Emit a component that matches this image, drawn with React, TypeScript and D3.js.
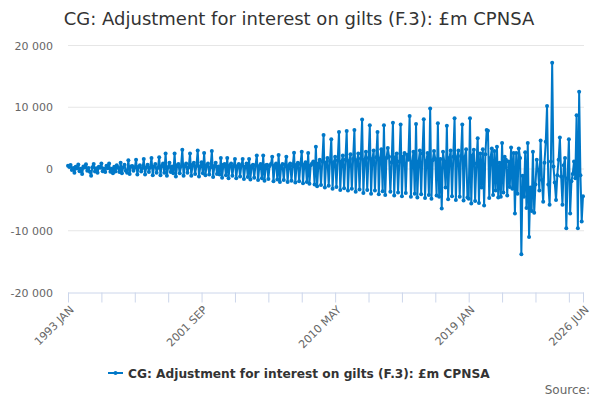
import { useEffect, useRef } from 'react'
import * as d3 from 'd3'

const title = 'CG: Adjustment for interest on gilts (F.3): £m CPNSA'
const seriesName = 'CG: Adjustment for interest on gilts (F.3): £m CPNSA'
const sourceLabel = 'Source:'
const startYear = 1993
const monthLabels = ['JAN', 'FEB', 'MAR', 'APR', 'MAY', 'JUN', 'JUL', 'AUG', 'SEP', 'OCT', 'NOV', 'DEC']
const yTicks = [-20000, -10000, 0, 10000, 20000]
const xTickStep = 26 // months between axis ticks
const xLabelEvery = 4 // label every 4th tick, plus the last month

// £m, monthly from 1993 JAN (one row per year)
const values: number[] = [
  520, 310, 640, -180, 150, -620, 380, 90, 710, -350, 40, -820,
  420, 260, 780, -300, 160, -450, -1100, 300, 820, -420, 110, -600,
  380, 210, 900, -350, 90, -500, 520, 140, 880, -450, 60, -700,
  350, -400, 600, 200, -500, 1000, -700, 300, 700, -300, -600, 1400,
  -800, 400, 500, -300, 200, 1500, -900, 350, 600, -400, 150, 1600,
  -900, 300, 700, -500, 250, 1800, -1000, 400, 800, -600, 200, 1900,
  -1000, 500, 900, -600, 2500, -1100, 300, 1000, -500, 400, -700, 2500,
  -1200, 600, 800, -700, 400, 3100, -1100, 500, 900, -600, 300, 2500,
  -1100, 700, 1000, -800, 500, 3000, -1200, 400, 1100, -700, 2600, -1000,
  600, 900, -900, 300, 2900, -1300, 500, 1000, -800, 400, -900, 1800,
  -1400, 700, 800, -1000, 1800, -1500, 600, 900, -1100, 500, 1600, -1500,
  500, 800, -1200, 600, 1600, -1600, 400, 900, -1300, 1600, -1700, 500,
  700, -1400, 600, 2200, -1800, 500, 800, -1500, 2200, -1900, 600, 700,
  -1600, 500, 800, 2000, -2000, 600, 900, -1700, 2270, -2100, 500, 800,
  -1800, 700, 2000, -2100, 600, 900, -1900, 500, 2640, -2200, 700, 1000,
  -2000, 800, 2800, -2300, 700, 1100, -2100, 2600, -2400, 600, 900, 1200,
  -2500, 3600, -2800, 900, 1500, -2600, 1200, 5500, -3000, 1000, 1800, -2700,
  1300, 4800, -3200, 1100, 2000, -2900, 1400, 6000, -3400, 1200, 2200, -3100,
  1500, 6150, -3500, 1300, 2400, -3200, 1600, 6300, -3700, 1400, 2500, -3300,
  1700, 8000, -3900, 1500, 2800, -3400, 1800, 7100, -4000, 1600, 3000, -3500,
  1900, 6000, -4100, 1700, 3200, -3600, 7100, -4200, 1800, 3400, 2000, -3700,
  1100, 7500, -4300, 1900, 2500, -3800, 1200, 7200, -4400, 2000, 2600, -3900,
  2300, 1500, 8600, -4500, 1100, 2800, -4000, 7300, -4600, 1200, 3000, -4100,
  2500, 8050, -4700, 1300, 2600, -4200, 9800, -4800, 1400, 2900, 1600, -4300,
  7400, -4500, 1600, -6400, 2800, 1200, -3000, 7000, -4900, 1800, 3000, -4400,
  2000, 8200, -5000, 1900, 3000, -4500, 2100, 7200, -5100, 2000, 3200, -4600,
  -4800, 8200, -5600, 2200, 3100, -5200, 900, 5000, -5500, 2500, -3000, 3200,
  -5900, 2400, 6300, 6200, -4700, 1800, 3300, -4200, 2900, -3500, 3600, -4600,
  1000, -4500, 4200, -3800, 2000, 1500, -4300, 1200, -2900, 3500, -3200, 2600,
  -7200, 2600, -4000, 3300, 1800, -13800, -1100, -4500, 2700, -6300, 4200, -11000,
  -3000, -6800, 2800, -7100, -2500, 1500, -150, -3500, 4600, -1800, -5300, 1000,
  4400, 10200, -2500, -5800, 1200, 17200, 400, -2200, -5000, -1000, 1500, 5100,
  -1200, -5800, 600, 1800, -9600, -1500, 4800, -7200, -2000, -800, 1200, -1500,
  8700, -9600, 12500, -1000, -8500, -4400,
]

const lineColor = '#0078c8'
const font = "'DejaVu Sans', sans-serif"

function monthLabel(i: number) {
  return `${startYear + Math.floor(i / 12)} ${monthLabels[i % 12]}`
}

function formatValue(v: number) {
  const s = d3.format(',')(Math.abs(v)).replace(/,/g, ' ')
  return v < 0 ? `-${s}` : s
}

export default function App() {
  const svgRef = useRef<SVGSVGElement>(null)

  useEffect(() => {
    document.body.style.margin = '0'
    if (!svgRef.current) return

    const svg = d3.select(svgRef.current)
    svg.selectAll('*').remove()

    const left = 68
    const right = 583
    const top = 45.5
    const bottom = 292.5
    const last = values.length - 1

    const x = d3.scaleLinear().domain([0, last]).range([left, right])
    const y = d3.scaleLinear().domain([-20000, 20000]).range([bottom, top])

    // Title
    svg
      .append('text')
      .attr('x', 299)
      .attr('y', 25)
      .attr('text-anchor', 'middle')
      .attr('fill', '#333333')
      .attr('font-family', font)
      .attr('font-size', '18px')
      .text(title)

    // Grid lines
    svg
      .append('g')
      .selectAll('line')
      .data(yTicks.filter((t) => t > -20000))
      .enter()
      .append('line')
      .attr('x1', left)
      .attr('x2', right + 1)
      .attr('y1', (d) => y(d))
      .attr('y2', (d) => y(d))
      .attr('stroke', '#e6e6e6')
      .attr('stroke-width', 1)

    // Y axis labels
    const yAxis = d3.axisLeft(y).tickValues(yTicks).tickSize(0).tickPadding(15).tickFormat((d) => formatValue(+d))
    const yg = svg.append('g').attr('transform', `translate(${left},0)`).call(yAxis)
    yg.select('.domain').remove()
    yg.selectAll('text').attr('fill', '#666666').attr('font-family', font).attr('font-size', '11px')

    // X axis
    const xTicks = d3.range(0, last, xTickStep).concat([last])
    const xAxis = d3
      .axisBottom(x)
      .tickValues(xTicks)
      .tickSize(10)
      .tickSizeOuter(0)
      .tickFormat((d) => {
        const i = +d
        return i === last || (i / xTickStep) % xLabelEvery === 0 ? monthLabel(i) : ''
      })
    const xg = svg.append('g').attr('transform', `translate(0,${bottom})`).call(xAxis)
    xg.select('.domain').attr('stroke', '#ccd6eb').attr('d', `M${left},0.5H${right + 1}`)
    xg.selectAll('line').attr('stroke', '#ccd6eb')
    xg.selectAll('text')
      .attr('fill', '#666666')
      .attr('font-family', font)
      .attr('font-size', '11px')
      .attr('y', 0)
      .attr('dy', 0)
      .attr('transform', 'translate(6,18) rotate(-45)')
      .style('text-anchor', 'end')

    // Series line
    const line = d3
      .line<number>()
      .x((_, i) => x(i))
      .y((d) => y(d))

    svg
      .append('path')
      .datum(values)
      .attr('fill', 'none')
      .attr('stroke', lineColor)
      .attr('stroke-width', 2)
      .attr('stroke-linejoin', 'round')
      .attr('d', line)

    svg
      .append('g')
      .selectAll('circle')
      .data(values)
      .enter()
      .append('circle')
      .attr('cx', (_, i) => x(i))
      .attr('cy', (d) => y(d))
      .attr('r', 2)
      .attr('fill', lineColor)

    // Legend
    const legend = svg.append('g').attr('transform', 'translate(108,373)')
    legend.append('line').attr('x1', 0).attr('x2', 15).attr('y1', 0).attr('y2', 0).attr('stroke', lineColor).attr('stroke-width', 2)
    legend.append('circle').attr('cx', 7.5).attr('cy', 0).attr('r', 2).attr('fill', lineColor)
    legend
      .append('text')
      .attr('x', 20)
      .attr('y', 4.5)
      .attr('fill', '#333333')
      .attr('font-family', font)
      .attr('font-size', '12.2px')
      .attr('font-weight', 'bold')
      .text(seriesName)

    // Credits
    svg
      .append('text')
      .attr('x', 590)
      .attr('y', 394)
      .attr('text-anchor', 'end')
      .attr('fill', '#666666')
      .attr('font-family', font)
      .attr('font-size', '12px')
      .text(sourceLabel)
  }, [])

  return <svg ref={svgRef} width={600} height={400} style={{ display: 'block' }}></svg>
}
